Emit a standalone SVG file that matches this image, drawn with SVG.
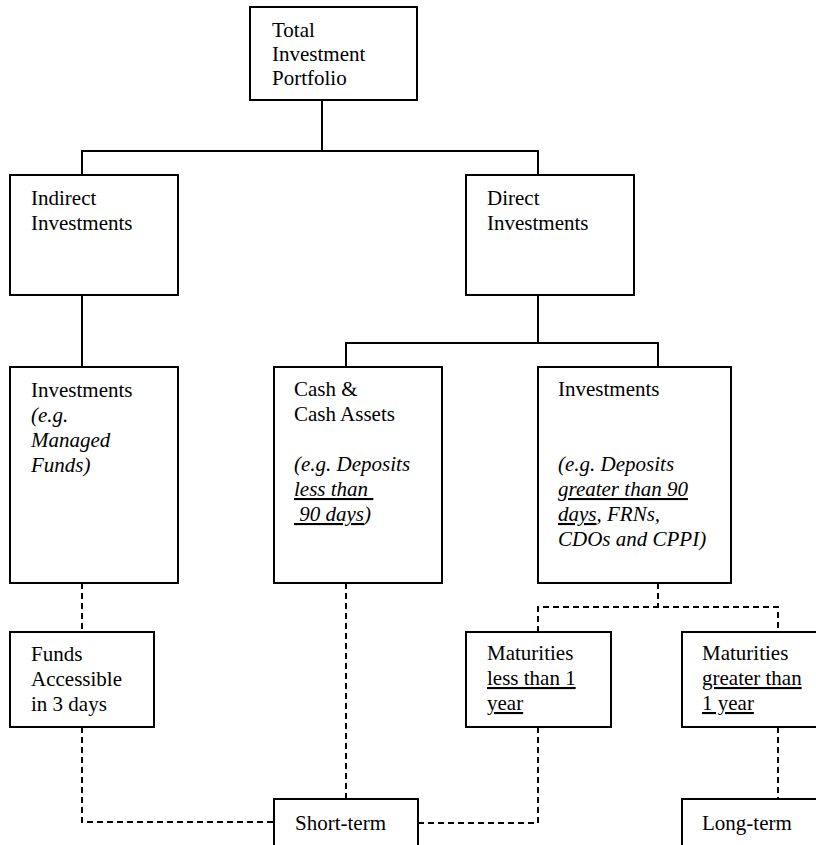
<svg xmlns="http://www.w3.org/2000/svg" width="816" height="845" viewBox="0 0 816 845" font-family="'Liberation Serif', 'Times New Roman', 'DejaVu Serif', serif" font-size="21">
<style>
.box{fill:#fff;stroke:#000;stroke-width:2}
.ln{fill:none;stroke:#000;stroke-width:2}
.dl{fill:none;stroke:#000;stroke-width:2;stroke-dasharray:6 4}
text{font-family:'Liberation Serif','Times New Roman','DejaVu Serif',serif;font-size:21px;fill:#000}
.i{font-style:italic}
.u{text-decoration:underline}
</style>
<rect width="816" height="845" fill="#fff"/>
<g id="connectors">
<path class="ln" d="M322 100V151M82 174V151H538V174"/>
<path class="ln" d="M82 295V367"/>
<path class="ln" d="M538 295V343M346 367V343H658V367"/>
<path class="dl" d="M82 583V632"/>
<path class="dl" d="M82 727V822H274"/>
<path class="dl" d="M346 583V799"/>
<path class="dl" d="M658 583V607M538 632V607H778V632"/>
<path class="dl" d="M538 727V823H418"/>
<path class="dl" d="M778 727V799"/>
</g>
<g id="total">
<rect class="box" x="250" y="7" width="167" height="93"/>
<text x="272" y="37">Total</text>
<text x="272" y="61">Investment</text>
<text x="272" y="85">Portfolio</text>
</g>
<g id="indirect">
<rect class="box" x="10" y="175" width="168" height="120"/>
<text x="31" y="205">Indirect</text>
<text x="31" y="230">Investments</text>
</g>
<g id="direct">
<rect class="box" x="466" y="175" width="168" height="120"/>
<text x="487" y="205">Direct</text>
<text x="487" y="230">Investments</text>
</g>
<g id="managed">
<rect class="box" x="10" y="367" width="168" height="216"/>
<text x="31" y="397">Investments</text>
<text x="31" y="422" class="i">(e.g.</text>
<text x="31" y="447" class="i">Managed</text>
<text x="31" y="472" class="i">Funds)</text>
</g>
<g id="cash">
<rect class="box" x="274" y="367" width="168" height="216"/>
<text x="294" y="396">Cash &amp;</text>
<text x="294" y="421">Cash Assets</text>
<text x="294" y="471" class="i">(e.g. Deposits</text>
<text x="294" y="496" class="i"><tspan class="u">less than&#160;</tspan></text>
<text x="294" y="521" class="i"><tspan class="u">&#160;90 days</tspan>)</text>
</g>
<g id="investments">
<rect class="box" x="538" y="367" width="193" height="216"/>
<text x="558" y="396">Investments</text>
<text x="558" y="471" class="i">(e.g. Deposits</text>
<text x="558" y="496" class="i"><tspan class="u">greater than 90</tspan></text>
<text x="558" y="521" class="i"><tspan class="u">days</tspan>, FRNs,</text>
<text x="558" y="546" class="i">CDOs and CPPI)</text>
</g>
<g id="funds">
<rect class="box" x="10" y="632" width="144" height="95"/>
<text x="31" y="661">Funds</text>
<text x="31" y="686">Accessible</text>
<text x="31" y="711">in 3 days</text>
</g>
<g id="less1">
<rect class="box" x="466" y="632" width="145" height="95"/>
<text x="487" y="660">Maturities</text>
<text x="487" y="685"><tspan class="u">less than 1</tspan></text>
<text x="487" y="710"><tspan class="u">year</tspan></text>
</g>
<g id="greater1">
<rect class="box" x="682" y="632" width="150" height="95"/>
<text x="702" y="660">Maturities</text>
<text x="702" y="685"><tspan class="u">greater than</tspan></text>
<text x="702" y="710"><tspan class="u">1 year</tspan></text>
</g>
<g id="short">
<rect class="box" x="274" y="799" width="144" height="60"/>
<text x="295" y="830">Short-term</text>
</g>
<g id="long">
<rect class="box" x="682" y="799" width="150" height="60"/>
<text x="702" y="830">Long-term</text>
</g>
</svg>
